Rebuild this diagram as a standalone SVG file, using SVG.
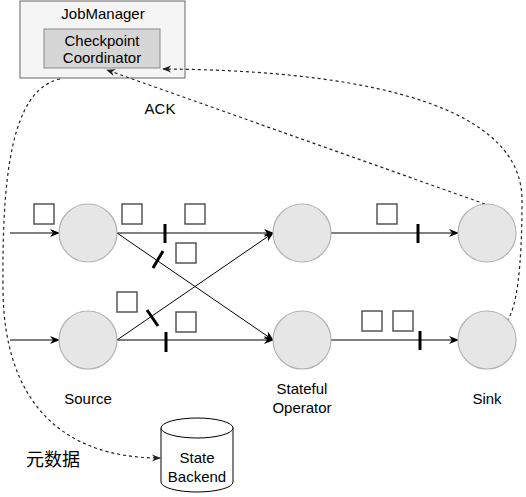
<svg xmlns="http://www.w3.org/2000/svg" width="526" height="497" viewBox="0 0 526 497">
<defs>
<style>
text{font-family:"Liberation Sans",Arial,sans-serif;font-size:15px;fill:#000;text-anchor:middle}
.op{fill:#e6e6e6;stroke:#b3b3b3;stroke-width:1.2}
.sq{fill:#fff;stroke:#555;stroke-width:1.5}
.ln{fill:none;stroke:#000;stroke-width:1}
.bar{stroke:#000;stroke-width:3;fill:none}
.dash{fill:none;stroke:#222;stroke-width:1.2;stroke-dasharray:3 3}
</style>
<marker id="ah" viewBox="0 0 10 10" refX="9" refY="5" markerWidth="10" markerHeight="10" markerUnits="userSpaceOnUse" orient="auto">
<path d="M0,1 L10,5 L0,9 L3,5 Z" fill="#000"/>
</marker>
<marker id="ahd" viewBox="0 0 10 10" refX="9" refY="5" markerWidth="9" markerHeight="9" markerUnits="userSpaceOnUse" orient="auto">
<path d="M0,1 L10,5 L0,9 L3,5 Z" fill="#222"/>
</marker>
</defs>

<g id="jobmanager">
<rect x="20" y="1" width="165" height="77" fill="#f5f5f5" stroke="#666" stroke-width="1"/>
<text x="103" y="19">JobManager</text>
</g>
<g id="checkpoint-coordinator">
<rect x="44" y="29" width="116" height="39" fill="#d6d6d6" stroke="#888" stroke-width="1"/>
<text x="102" y="46">Checkpoint</text>
<text x="102" y="63">Coordinator</text>
</g>

<g id="connectors">
<path class="ln" d="M10,233 L59,233" marker-end="url(#ah)"/>
<path class="ln" d="M10,340 L59,340" marker-end="url(#ah)"/>
<path class="ln" d="M117,233 L273,233" marker-end="url(#ah)"/>
<path class="ln" d="M117,233 L273,340" marker-end="url(#ah)"/>
<path class="ln" d="M117,340 L273,233" marker-end="url(#ah)"/>
<path class="ln" d="M117,340 L273,340" marker-end="url(#ah)"/>
<path class="ln" d="M331,233 L458,233" marker-end="url(#ah)"/>
<path class="ln" d="M331,340 L458,340" marker-end="url(#ah)"/>
<path class="dash" d="M485,204 L107,70" marker-end="url(#ahd)"/>
<path class="dash" d="M507,321 Q522,300 522,200 C522,95 330,70 163,69" marker-end="url(#ahd)"/>
<path class="dash" d="M60,79 C10,90 2,180 3,290 C4,400 60,458 160,458" marker-end="url(#ahd)"/>
</g>

<g id="barriers">
<line class="bar" x1="165" y1="224" x2="165" y2="243"/>
<line class="bar" x1="153" y1="268" x2="163" y2="251"/>
<line class="bar" x1="147" y1="310" x2="158" y2="326"/>
<line class="bar" x1="166" y1="332" x2="166" y2="352"/>
<line class="bar" x1="418" y1="224" x2="418" y2="243"/>
<line class="bar" x1="420" y1="331" x2="420" y2="350"/>
</g>

<g id="records">
<rect class="sq" x="34" y="204" width="20" height="20"/>
<rect class="sq" x="122" y="204" width="20" height="20"/>
<rect class="sq" x="185" y="204" width="20" height="20"/>
<rect class="sq" x="176" y="243" width="20" height="20"/>
<rect class="sq" x="117" y="292" width="20" height="20"/>
<rect class="sq" x="176" y="312" width="20" height="20"/>
<rect class="sq" x="377" y="204" width="20" height="20"/>
<rect class="sq" x="362" y="311" width="20" height="20"/>
<rect class="sq" x="393" y="311" width="20" height="20"/>
</g>

<g id="source-1"><circle class="op" cx="88" cy="233" r="29"/></g>
<g id="source-2"><circle class="op" cx="88" cy="340" r="29"/></g>
<g id="stateful-1"><circle class="op" cx="302" cy="233" r="29"/></g>
<g id="stateful-2"><circle class="op" cx="302" cy="340" r="29"/></g>
<g id="sink-1"><circle class="op" cx="487" cy="233" r="29"/></g>
<g id="sink-2"><circle class="op" cx="487" cy="340" r="29"/></g>

<g id="labels">
<text x="160" y="114">ACK</text>
<text x="88" y="404">Source</text>
<text x="302" y="394">Stateful</text>
<text x="302" y="413">Operator</text>
<text x="487" y="404">Sink</text>
<text x="53" y="466" style="font-family:'Noto Sans CJK SC','Liberation Sans',sans-serif;font-size:18px">元数据</text>
</g>

<g id="state-backend">
<path d="M161,428 L161,482 A36,10 0 0 0 233,482 L233,428" fill="#fff" stroke="#000" stroke-width="1"/>
<ellipse cx="197" cy="428" rx="36" ry="10" fill="#fff" stroke="#000" stroke-width="1"/>
<text x="197" y="463">State</text>
<text x="197" y="482">Backend</text>
</g>
</svg>
